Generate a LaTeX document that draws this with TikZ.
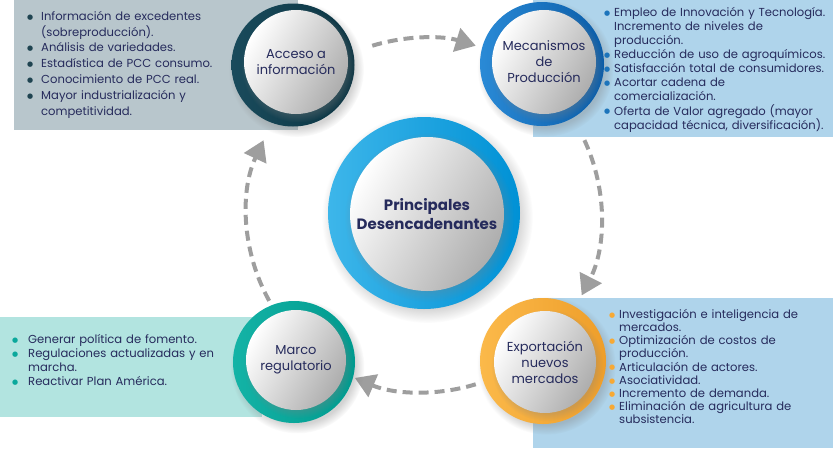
\documentclass[tikz,border=0pt]{standalone}
\usepackage{fontspec}
\setmainfont{Poppins}
\newfontfamily\dejavu{DejaVu Sans}
\usetikzlibrary{arrows.meta,shadows,calc}
\definecolor{navy}{HTML}{262B5C}
\definecolor{boxA}{HTML}{B8C6CC}
\definecolor{boxB}{HTML}{AFD4EB}
\definecolor{boxC}{HTML}{B2E4E0}
\definecolor{arrowgray}{HTML}{9E9E9E}
\definecolor{accA}{HTML}{1A4B5C}
\definecolor{accB}{HTML}{0B3442}
\definecolor{mecA}{HTML}{2A8AD6}
\definecolor{mecB}{HTML}{0A5CA8}
\definecolor{priA}{HTML}{3DB6EA}
\definecolor{priB}{HTML}{0091D5}
\definecolor{expA}{HTML}{FBB94A}
\definecolor{expB}{HTML}{EE9E2A}
\definecolor{marA}{HTML}{14B3A6}
\definecolor{marB}{HTML}{009A8E}
\definecolor{bulA}{HTML}{1F4451}
\definecolor{bulB}{HTML}{1C74BB}
\definecolor{bulC}{HTML}{F7A935}
\definecolor{bulD}{HTML}{0AA89C}
\newlength\bind
\newcommand\bitem[2]{\hangindent=\bind\hangafter=1\noindent\makebox[\bind][l]{\raisebox{1.2pt}{\textcolor{#1}{\dejavu\fontsize{7}{7}\selectfont ●}}}#2\par}
\tikzset{
  ring/.style 2 args={circle, inner sep=0pt, left color=#1, right color=#2,
    circular drop shadow={shadow xshift=3pt, shadow yshift=-4pt, opacity=.35}},
  core/.style={circle, inner sep=0pt, left color=white, right color=black!32,
    shading angle=60, font=\fontsize{13}{16}\selectfont, text=navy, align=center,
    circular drop shadow={shadow xshift=2pt, shadow yshift=-3pt, opacity=.3}},
  flow/.style={draw=arrowgray, line width=4pt, dash pattern=on 10pt off 6pt,
    -{Triangle[length=20pt,width=24pt]}},
  listbox/.style={anchor=north west, inner sep=0pt, text width=#1, align=left,
    text=navy, font=\fontsize{11.5}{14}\selectfont},
}
\begin{document}
\begin{tikzpicture}[x=1pt,y=-1pt]
\useasboundingbox (0,0) rectangle (833,448);
% background boxes
\fill[boxA] (14,0) rectangle (298,130);
\fill[boxB] (533,0) rectangle (833,137);
\fill[boxC] (0,317) rectangle (262,417);
\fill[boxB] (533,298) rectangle (833,448);
% flow arrows
\coordinate (cyc) at (424,215);
\coordinate (a1) at ($(cyc)+(-107:177)$);
\coordinate (a2) at ($(cyc)+(-25:177)$);
\coordinate (a3) at ($(cyc)+(73:177)$);
\coordinate (a4) at ($(cyc)+(151:177)$);
\draw[flow] (a1) arc[start angle=-107, end angle=-73, radius=177];
\draw[flow] (a2) arc[start angle=-25, end angle=27, radius=177];
\draw[flow] (a3) arc[start angle=73, end angle=113, radius=177];
\draw[flow] (a4) arc[start angle=151, end angle=205, radius=177];
% circles
\node[ring={accA}{accB}, minimum size=123pt] (acc) at (293,65) {};
\node[core, minimum size=104pt] (acct) at (296,62) {Acceso a\\información};
\node[ring={mecA}{mecB}, minimum size=124pt] (mec) at (542,64) {};
\node[core, minimum size=104pt] (mect) at (544,62) {Mecanismos\\de\\Producción};
\node[ring={priA}{priB}, minimum size=192pt] (pri) at (424,213) {};
\node[core, minimum size=154pt, font=\fontsize{15}{19}\selectfont\bfseries] (prit) at (427,214) {Principales\\Desencadenantes};
\node[ring={expA}{expB}, minimum size=126pt] (exp) at (543,361) {};
\node[core, minimum size=102pt] (expt) at (545,362) {Exportación\\nuevos\\mercados};
\node[ring={marA}{marB}, minimum size=122pt] (mar) at (294,362) {};
\node[core, minimum size=100pt] (mart) at (296,360) {Marco\\regulatorio};
% lists
\node[listbox=270pt, font=\fontsize{11.6}{15.8}\selectfont] (la) at (27,11) {\setlength\bind{14pt}%
\bitem{bulA}{Información de excedentes\newline(sobreproducción).}
\bitem{bulA}{Análisis de variedades.}
\bitem{bulA}{Estadística de PCC consumo.}
\bitem{bulA}{Conocimiento de PCC real.}
\bitem{bulA}{Mayor industrialización y\newline competitividad.}};
\node[listbox=230pt, font=\fontsize{11.6}{14.1}\selectfont] (lb) at (604,7) {\setlength\bind{10pt}%
\bitem{bulB}{Empleo de Innovación y Tecnología.\newline Incremento de niveles de\newline producción.}
\bitem{bulB}{Reducción de uso de agroquímicos.}
\bitem{bulB}{Satisfacción total de consumidores.}
\bitem{bulB}{Acortar cadena de\newline comercialización.}
\bitem{bulB}{Oferta de Valor agregado (mayor\newline capacidad técnica, diversificación).}};
\node[listbox=220pt, font=\fontsize{11.6}{13.2}\selectfont] (lc) at (609,309) {\setlength\bind{10pt}%
\bitem{bulC}{Investigación e inteligencia de\newline mercados.}
\bitem{bulC}{Optimización de costos de\newline producción.}
\bitem{bulC}{Articulación de actores.}
\bitem{bulC}{Asociatividad.}
\bitem{bulC}{Incremento de demanda.}
\bitem{bulC}{Eliminación de agricultura de\newline subsistencia.}};
\node[listbox=240pt, font=\fontsize{11.6}{14}\selectfont] (ld) at (12,334) {\setlength\bind{16pt}%
\bitem{bulD}{Generar política de fomento.}
\bitem{bulD}{Regulaciones actualizadas y en\newline marcha.}
\bitem{bulD}{Reactivar Plan América.}};
\end{tikzpicture}
\end{document}
